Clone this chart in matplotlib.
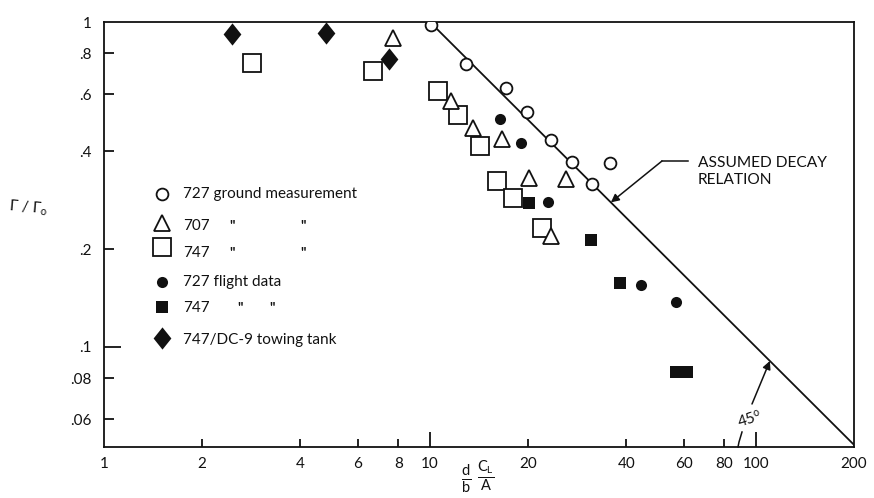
import matplotlib
matplotlib.use("Agg")
import matplotlib.pyplot as plt
from matplotlib.ticker import FixedLocator, FixedFormatter, NullLocator

plt.rcParams['font.family'] = ['Lato', 'DejaVu Sans']
plt.rcParams['mathtext.fontset'] = 'custom'
plt.rcParams['mathtext.rm'] = 'Lato'
plt.rcParams['mathtext.it'] = 'Lato:italic'

# ---------------- data ----------------
ground727_x = [10.07, 12.9, 17.1, 19.8, 23.5, 27.3, 31.4, 35.7]
ground727_y = [0.98, 0.74, 0.627, 0.53, 0.432, 0.37, 0.318, 0.369]

ground707_x = [7.7, 11.6, 13.55, 16.6, 20.1, 26.1, 23.5]
ground707_y = [0.89, 0.573, 0.471, 0.436, 0.33, 0.328, 0.219]

ground747_x = [2.84, 6.69, 10.6, 12.2, 14.2, 16.1, 18.0, 22.1]
ground747_y = [0.747, 0.708, 0.614, 0.519, 0.414, 0.324, 0.288, 0.233]

flight727_x = [16.4, 19.0, 23.0, 44.4, 56.9]
flight727_y = [0.503, 0.425, 0.28, 0.155, 0.138]

flight747_x = [20.1, 31.2, 38.3, 56.9, 61.4]
flight747_y = [0.278, 0.2136, 0.157, 0.0838, 0.0838]

tank_x = [2.47, 4.8, 7.48]
tank_y = [0.916, 0.924, 0.772]

decay_x = [10, 200]
decay_y = [1.0, 0.05]

x_ticks = [1, 2, 4, 6, 8, 10, 20, 40, 60, 80, 100, 200]
x_tick_labels = ['1', '2', '4', '6', '8', '10', '20', '40', '60', '80', '100', '200']
y_ticks = [1, 0.8, 0.6, 0.4, 0.2, 0.1, 0.08, 0.06]
y_tick_labels = ['1', '.8', '.6', '.4', '.2', '.1', '.08', '.06']

legend_labels = ['727 ground measurement', '707', '747', '727 flight data', '747', '747/DC-9 towing tank']

# ---------------- figure ----------------
W, H = 874, 498
fig = plt.figure(figsize=(W / 100, H / 100), dpi=100)
L, R, T, B = 104, 854, 22, 447
ax = fig.add_axes([L / W, 1 - B / H, (R - L) / W, (B - T) / H])
ax.set_xscale('log')
ax.set_yscale('log')
ax.set_xlim(1, 200)
ax.set_ylim(10 ** (-1.3077), 1)

def fx(px):
    return px / W

def fy(py):
    return 1 - py / H

ink = '#111111'
open_kw = dict(linestyle='none', markerfacecolor='white', markeredgecolor=ink, markeredgewidth=1.3)
fill_kw = dict(linestyle='none', color=ink, markeredgewidth=0)
diamond = [(0, 1), (0.8, 0), (0, -1), (-0.8, 0), (0, 1)]

ax.plot(decay_x, decay_y, color=ink, lw=1.3, zorder=2)

ax.plot(ground747_x, ground747_y, marker='s', markersize=13, **open_kw, zorder=3)
ax.plot(ground707_x, ground707_y, marker='^', markersize=12, **open_kw, zorder=4)
ax.plot(ground727_x, ground727_y, marker='o', markersize=8.5, **open_kw, zorder=4)
ax.plot(flight727_x, flight727_y, marker='o', markersize=8, **fill_kw, zorder=5)
ax.plot(flight747_x, flight747_y, marker='s', markersize=8.5, **fill_kw, zorder=5)
ax.plot(tank_x, tank_y, marker=diamond, markersize=16, **fill_kw, zorder=5)

# ticks
ax.xaxis.set_major_locator(FixedLocator(x_ticks))
ax.xaxis.set_major_formatter(FixedFormatter(x_tick_labels))
ax.xaxis.set_minor_locator(NullLocator())
ax.yaxis.set_major_locator(FixedLocator(y_ticks))
ax.yaxis.set_major_formatter(FixedFormatter(y_tick_labels))
ax.yaxis.set_minor_locator(NullLocator())
ax.tick_params(axis='both', direction='in', width=1.3, color=ink, labelsize=11, labelcolor=ink)
ax.tick_params(axis='x', pad=7, length=6)
ax.tick_params(axis='y', pad=9, length=7)
for v, t in zip(x_ticks, ax.xaxis.get_major_ticks()):
    if v in (10, 100):
        t.tick1line.set_markersize(11)
    if v in (1, 200):
        t.tick1line.set_markersize(0)
for v, t in zip(y_ticks, ax.yaxis.get_major_ticks()):
    if v == 0.1:
        t.tick1line.set_markersize(12)
    if v == 1:
        t.tick1line.set_markersize(0)

for s in ax.spines.values():
    s.set_linewidth(1.3)
    s.set_color(ink)

# ---------------- manual legend ----------------
leg_rows = [
    (194, 'o', 8.5, True, 194),
    (223, '^', 12, True, 226),
    (247, 's', 13, True, 253),
    (282, 'o', 8, False, 282),
    (307, 's', 8.5, False, 308),
    (338, diamond, 16, False, 340),
]
for (my, mk, ms, is_open, ty), lab in zip(leg_rows, legend_labels):
    kw = open_kw if is_open else fill_kw
    fig.add_artist(plt.Line2D([fx(162)], [fy(my)], marker=mk, markersize=ms, transform=fig.transFigure, **kw))
    fig.text(fx(183), fy(ty), lab, fontsize=11, color=ink, va='center', ha='left')
for ty in (226, 253):
    fig.text(fx(232), fy(ty), '"', fontsize=10, color=ink, va='center', ha='center', weight='bold')
    fig.text(fx(303), fy(ty), '"', fontsize=10, color=ink, va='center', ha='center', weight='bold')
fig.text(fx(240), fy(308), '"', fontsize=10, color=ink, va='center', ha='center', weight='bold')
fig.text(fx(272), fy(308), '"', fontsize=10, color=ink, va='center', ha='center', weight='bold')

# ---------------- axis labels ----------------
fig.text(fx(28), fy(208), r'$\Gamma\ /\ \Gamma_{\mathrm{o}}$', fontsize=11, color=ink, ha='center', va='center', rotation=-5)
fig.text(fx(466), fy(479), r'$\frac{\mathrm{d}}{\mathrm{b}}$', fontsize=15, color=ink, ha='center', va='center')
fig.text(fx(486), fy(476), r'$\frac{\mathrm{C_L}}{\mathrm{A}}$', fontsize=15, color=ink, ha='center', va='center')

# ---------------- annotations ----------------
fig.text(fx(698), fy(163), 'ASSUMED DECAY', fontsize=11.2, color=ink, ha='left', va='center')
fig.text(fx(698), fy(180), 'RELATION', fontsize=11.2, color=ink, ha='left', va='center')
fig.add_artist(plt.Line2D([fx(688), fx(662)], [fy(161), fy(161)], color=ink, lw=1.1, transform=fig.transFigure))
ax.annotate('', xy=(35.9, 10 / 35.9), xycoords='data',
            xytext=(fx(662), fy(161)), textcoords='figure fraction',
            arrowprops=dict(arrowstyle='-|>', color=ink, lw=1.1, mutation_scale=12, shrinkA=0, shrinkB=0))

fig.text(fx(750), fy(419), '45$^{\\mathrm{o}}$', fontsize=11, color=ink, ha='center', va='center', rotation=18)
ax.annotate('', xy=(110.4, 10 / 110.4), xycoords='data',
            xytext=(fx(752), fy(404)), textcoords='figure fraction',
            arrowprops=dict(arrowstyle='-|>', color=ink, lw=1.1, mutation_scale=12, shrinkA=0, shrinkB=0))
fig.add_artist(plt.Line2D([fx(742), fx(739), fx(738)], [fy(432), fy(442), fy(447)], color=ink, lw=1.1, transform=fig.transFigure))

fig.savefig('out.png', dpi=100, facecolor='white')
